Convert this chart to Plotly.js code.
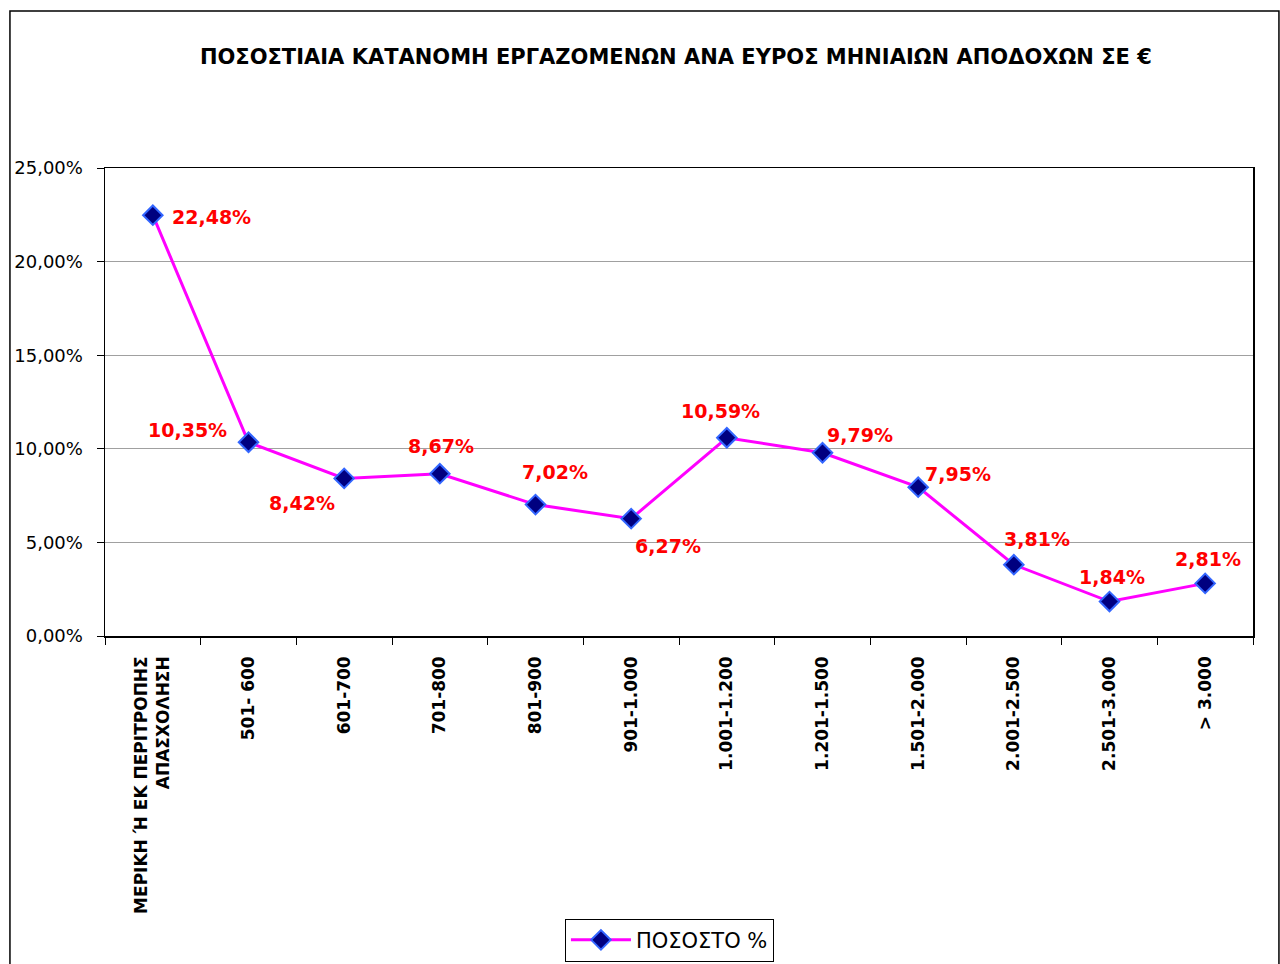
<!DOCTYPE html>
<html>
<head>
<meta charset="utf-8">
<script src="https://cdn.plot.ly/plotly-3.0.1.min.js"></script>
<style>html,body{margin:0;padding:0;background:#fff;}#chart{width:1280px;height:964px;}</style>
</head>
<body>
<div id="chart"></div>
<script>
const categories = ["ΜΕΡΙΚΗ Ή ΕΚ ΠΕΡΙΤΡΟΠΗΣ<br>ΑΠΑΣΧΟΛΗΣΗ", "501- 600", "601-700", "701-800", "801-900", "901-1.000", "1.001-1.200", "1.201-1.500", "1.501-2.000", "2.001-2.500", "2.501-3.000", "> 3.000"];
const values = [22.48, 10.35, 8.42, 8.67, 7.02, 6.27, 10.59, 9.79, 7.95, 3.81, 1.84, 2.81];
const seriesName = "ΠΟΣΟΣΤΟ %";
const titleText = "ΠΟΣΟΣΤΙΑΙΑ ΚΑΤΑΝΟΜΗ ΕΡΓΑΖΟΜΕΝΩΝ ΑΝΑ ΕΥΡΟΣ ΜΗΝΙΑΙΩΝ ΑΠΟΔΟΧΩΝ ΣΕ €";
const yTicks = [0, 5, 10, 15, 20, 25];
// label offsets (px) relative to each point
const labelDx = [59, -61, -42, 1, 19, 37, -6, 37, 40, 23, 2, 3];
const labelDy = [-2, 12, -25, 28, 33, -27, 27, 18, 13, 26, 25, 24];

const fmt = v => v.toFixed(2).replace('.', ',') + '%';

const trace = {
  x: categories, y: values, type: 'scatter', mode: 'lines+markers', name: seriesName,
  line: {color: '#FF00FF', width: 3},
  marker: {symbol: 'diamond', size: 15, color: '#000080', line: {color: '#3366FF', width: 2}}
};

const annotations = values.map((v, i) => ({
  x: categories[i], y: v, xref: 'x', yref: 'y', text: fmt(v), showarrow: false,
  xshift: labelDx[i], yshift: labelDy[i],
  font: {family: 'DejaVu Sans', size: 19, color: '#FF0000', weight: 'bold'}
}));

const layout = {
  width: 1280, height: 964,
  margin: {l: 105, r: 27, t: 168, b: 328, autoexpand: false},
  paper_bgcolor: '#fff', plot_bgcolor: '#fff',
  font: {family: 'DejaVu Sans', color: '#000'},
  title: {text: '<b>' + titleText + '</b>', xref: 'container', x: 0.528, xanchor: 'center',
    yref: 'container', y: 0.941, yanchor: 'middle',
    font: {family: 'DejaVu Sans', size: 21, color: '#000'}},
  showlegend: true,
  legend: {orientation: 'h', xref: 'container', x: 0.523, xanchor: 'center',
    yref: 'container', y: 0.047, yanchor: 'top', itemwidth: 60,
    bordercolor: '#000', borderwidth: 1, font: {size: 21, family: 'DejaVu Sans'}},
  xaxis: {
    type: 'category', range: [-0.5, categories.length - 0.5], automargin: false,
    tickson: 'boundaries', ticks: 'outside', ticklen: 7, tickcolor: '#000',
    showline: true, linecolor: '#000', linewidth: 1.5, mirror: true,
    showgrid: false, tickangle: -90, ticklabelstandoff: 12,
    tickfont: {family: 'DejaVu Sans', size: 17, color: '#000', weight: 'bold'}
  },
  yaxis: {
    range: [0, 25], tickvals: yTicks, ticktext: yTicks.map(fmt), automargin: false,
    ticks: 'outside', ticklen: 7, tickcolor: '#000', ticklabelstandoff: 10,
    showline: true, linecolor: '#000', linewidth: 1.5, mirror: true,
    showgrid: true, gridcolor: '#A0A0A0', gridwidth: 1, zeroline: false,
    tickfont: {family: 'DejaVu Sans', size: 18, color: '#000'}
  },
  annotations: annotations,
  shapes: [{type: 'rect', xref: 'paper', yref: 'paper', x0: -0.0828, x1: 1.0226, y0: -0.72, y1: 1.3355,
    line: {color: '#000', width: 1.5}, fillcolor: 'rgba(0,0,0,0)', layer: 'below'}]
};

Plotly.newPlot('chart', [trace], layout, {displayModeBar: false, staticPlot: true});
</script>
</body>
</html>
